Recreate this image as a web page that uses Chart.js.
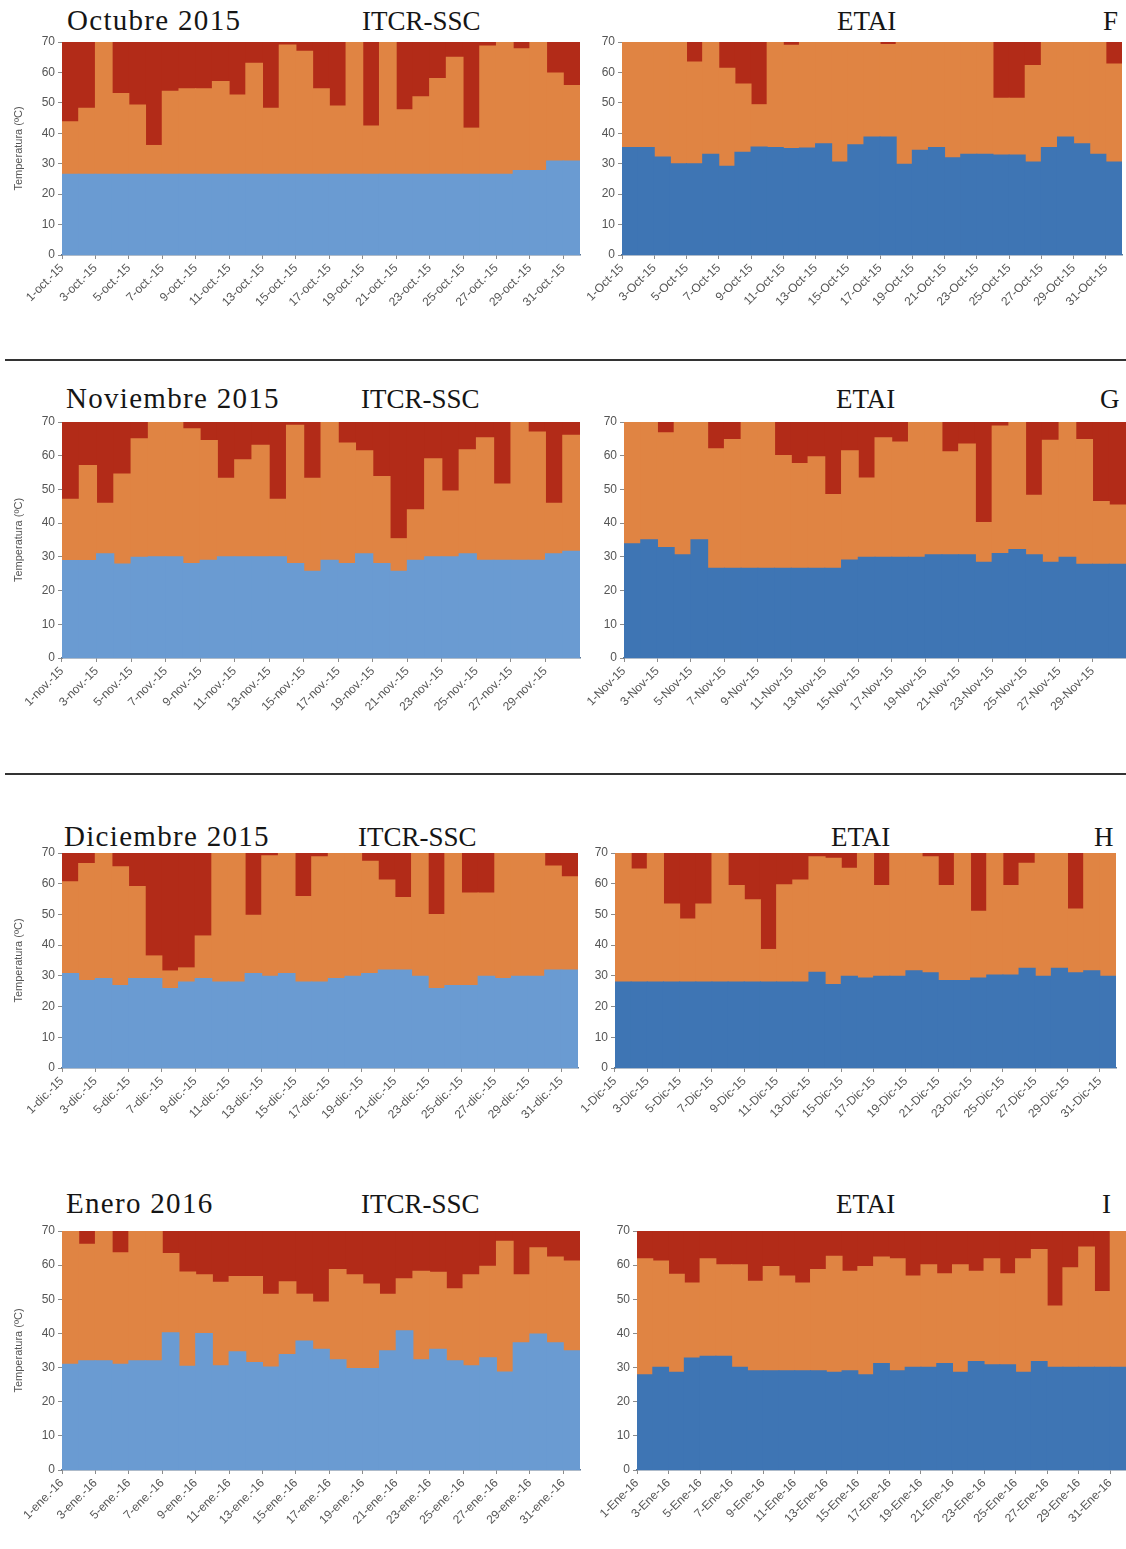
<!DOCTYPE html>
<html>
<head>
<meta charset="utf-8">
<script src="https://cdn.jsdelivr.net/npm/chart.js@4.4.1/dist/chart.umd.min.js"></script>
<style>
  html, body { margin: 0; padding: 0; background: #fff; overflow: hidden; }
  body { width: 1126px; height: 1549px; position: relative; }
  .box { position: absolute; }
  .ttl { position: absolute; font-family: "Liberation Serif", "Times New Roman", serif; font-size: 29px;
         color: #151515; letter-spacing: 1.3px; white-space: nowrap; line-height: 1; }
  .ttl.st { font-size: 27px; letter-spacing: 0; top: 0; }
  .sep { position: absolute; left: 5px; width: 1121px; height: 2px; background: #333; }
</style>
</head>
<body>

<div class="ttl" style="left:67px;top:6px">Octubre 2015</div>
<div class="ttl st" style="left:362px;top:8px">ITCR-SSC</div>
<div class="ttl st" style="left:837px;top:8px">ETAI</div>
<div class="ttl st" style="left:1103px;top:8px">F</div>
<div class="sep" style="top:359px"></div>

<div class="ttl" style="left:66px;top:384px">Noviembre 2015</div>
<div class="ttl st" style="left:361px;top:386px">ITCR-SSC</div>
<div class="ttl st" style="left:836px;top:386px">ETAI</div>
<div class="ttl st" style="left:1100px;top:386px">G</div>
<div class="sep" style="top:773px"></div>

<div class="ttl" style="left:64px;top:822px">Diciembre 2015</div>
<div class="ttl st" style="left:358px;top:824px">ITCR-SSC</div>
<div class="ttl st" style="left:831px;top:824px">ETAI</div>
<div class="ttl st" style="left:1094px;top:824px">H</div>

<div class="ttl" style="left:66px;top:1189px">Enero 2016</div>
<div class="ttl st" style="left:361px;top:1191px">ITCR-SSC</div>
<div class="ttl st" style="left:836px;top:1191px">ETAI</div>
<div class="ttl st" style="left:1102px;top:1191px">I</div>

<script>
// temperature ticks (ºC) and categories
const yTicks = [0, 10, 20, 30, 40, 50, 60, 70];
const days31 = [1,2,3,4,5,6,7,8,9,10,11,12,13,14,15,16,17,18,19,20,21,22,23,24,25,26,27,28,29,30,31];
const days30 = [1,2,3,4,5,6,7,8,9,10,11,12,13,14,15,16,17,18,19,20,21,22,23,24,25,26,27,28,29,30];

// October 2015 - lower / upper limit of each day
const octItcrMin = [26.5,26.5,26.5,26.5,26.5,26.5,26.5,26.5,26.5,26.5,26.5,26.5,26.5,26.5,26.5,26.5,26.5,26.5,26.5,26.5,26.5,26.5,26.5,26.5,26.5,26.5,26.5,27.8,27.8,30.9,30.9];
const octItcrMax = [43.8,48.2,70,53.1,49.3,36,53.8,54.6,54.6,57,52.6,63,48.2,69,67,54.6,49,70,42.4,70,47.7,52,58,65,41.7,68.7,70,67.8,70,59.8,55.7];
const octEtaiMin = [35.3,35.3,32.2,30,30,33.1,29.2,33.8,35.5,35.3,35,35.2,36.6,30.6,36.2,38.8,38.8,29.8,34.4,35.3,32,33.1,33.1,32.9,32.9,30.6,35.3,38.8,36.6,33.1,30.6];
const octEtaiMax = [70,70,70,70,63.4,70,61.4,56.2,49.4,70,68.9,69.8,70,70,70,70,69.2,70,70,70,70,70,70,51.5,51.5,62.3,70,70,70,70,62.8];

// November 2015
const novItcrMin = [28.9,28.9,30.9,27.9,29.9,30,30,28,29,30,30,30,30,28,25.7,29,28,30.9,28,25.7,29,30,30,30.9,29,29,29,29,30.9,31.7];
const novItcrMax = [47.1,57.1,45.9,54.6,65,70,70,68,64.5,53.3,58.8,63.1,47.1,69,53.3,70,63.8,61.5,53.8,35.4,44,59.1,49.5,61.8,65.3,51.6,70,67,45.9,66.1];
const novEtaiMin = [33.9,35.1,32.8,30.6,35.1,26.6,26.6,26.6,26.6,26.6,26.6,26.6,26.6,29.1,29.9,29.9,29.9,29.9,30.6,30.6,30.6,28.4,31,32.2,30.6,28.4,29.9,27.8,27.8,27.8];
const novEtaiMax = [70,70,66.8,70,70,62.1,64.8,70,70,60.1,57.7,59.7,48.5,61.5,53.4,65.3,64.1,70,70,61.2,63.5,40.2,68.8,70,48.3,64.6,70,64.8,46.4,45.4];

// December 2015
const decItcrMin = [30.8,28.5,29.1,26.9,29.1,29.1,25.9,28,29.1,28,28,30.8,29.9,30.8,28,28,29.1,29.9,30.8,31.9,31.9,29.9,25.9,26.9,26.9,29.9,29.1,29.9,29.9,31.9,31.9];
const decItcrMax = [60.6,66.6,70,65.5,59.1,36.5,31.6,32.6,43,70,70,49.7,69.1,70,55.8,68.8,70,70,67.3,61.2,55.5,70,50,70,57,57,70,70,70,65.8,62.3];
const decEtaiMin = [28,28,28,28,28,28,28,28,28,28,28,28,31.2,27.2,29.9,29.3,29.9,29.9,31.7,31,28.5,28.5,29.3,30.3,30.3,32.5,29.9,32.5,31,31.7,29.9];
const decEtaiMax = [70,64.8,70,53.4,48.5,53.4,70,59.4,54.8,38.6,59.7,61.2,68.8,68.3,65,70,59.4,70,70,68.8,59.4,70,51,70,59.4,66.7,70,70,51.8,70,70];

// January 2016
const janItcrMin = [31,32,32,31,32,32,40.2,30.4,40,30.5,34.6,31.5,30.2,33.8,37.8,35.4,32.3,29.7,29.7,34.9,40.8,32.3,35.4,32,30.5,32.9,28.7,37.3,39.8,37.3,34.9];
const janItcrMax = [70,66.1,70,63.6,70,70,63.4,58,57.2,55,56.7,56.7,51.5,55.1,51.5,49.2,58.7,57.2,54.5,51.5,56,58.2,57.9,53.1,57.2,59.7,67,57.2,65.1,62.4,61.2];
const janEtaiMin = [27.9,30.1,28.6,32.8,33.3,33.3,30.1,29.1,29.1,29.1,29.1,29.1,28.6,29.1,27.9,31.2,29.1,30.1,30.1,31.2,28.6,31.8,30.8,30.8,28.6,31.8,30.1,30.1,30.1,30.1,30.1];
const janEtaiMax = [61.9,61.2,57.3,54.8,61.9,60.1,60.1,55.3,59.6,56.8,54.8,58.7,62.6,58.2,59.6,62.4,61.9,56.8,60.1,57.5,60.1,58.2,61.9,57.5,61.9,64.6,48,59.2,65.3,52.3,70];

const TOP = 70;
const lightBlue = '#6a9bd2';
const darkBlue = '#3e75b4';
const orange = '#e08443';
const red = '#b22b18';

const panels = [
  { days: days31, tag: 'oct.-15', lo: octItcrMin, hi: octItcrMax, blue: lightBlue, x: 62,  y: 42,   w: 518, h: 213, left: true },
  { days: days31, tag: 'Oct-15',  lo: octEtaiMin, hi: octEtaiMax, blue: darkBlue,  x: 622, y: 42,   w: 500, h: 213 },
  { days: days30, tag: 'nov.-15', lo: novItcrMin, hi: novItcrMax, blue: lightBlue, x: 62,  y: 422,  w: 518, h: 236, left: true },
  { days: days30, tag: 'Nov-15',  lo: novEtaiMin, hi: novEtaiMax, blue: darkBlue,  x: 624, y: 422,  w: 502, h: 236 },
  { days: days31, tag: 'dic.-15', lo: decItcrMin, hi: decItcrMax, blue: lightBlue, x: 62,  y: 853,  w: 516, h: 215, left: true },
  { days: days31, tag: 'Dic-15',  lo: decEtaiMin, hi: decEtaiMax, blue: darkBlue,  x: 615, y: 853,  w: 501, h: 215 },
  { days: days31, tag: 'ene.-16', lo: janItcrMin, hi: janItcrMax, blue: lightBlue, x: 62,  y: 1231, w: 518, h: 239, left: true },
  { days: days31, tag: 'Ene-16',  lo: janEtaiMin, hi: janEtaiMax, blue: darkBlue,  x: 637, y: 1231, w: 489, h: 239 }
];

const sans = '"Liberation Sans", Arial, sans-serif';

function makePanel(p) {
  const axW = p.left ? 62 : 45;
  const padT = 8;
  const padR = (p.x + p.w >= 1124) ? 0 : 4;
  const xH = p.y > 1200 ? 78 : 80;

  const box = document.createElement('div');
  box.className = 'box';
  box.style.left = (p.x - axW) + 'px';
  box.style.top = (p.y - padT) + 'px';
  box.style.width = (axW + p.w + padR) + 'px';
  box.style.height = (padT + p.h + xH) + 'px';
  const canvas = document.createElement('canvas');
  box.appendChild(canvas);
  document.body.appendChild(box);

  const labels = p.days.map(d => d + '-' + p.tag);
  const halfBar = p.w / p.days.length / 2;

  return new Chart(canvas.getContext('2d'), {
    type: 'bar',
    data: {
      labels: labels,
      datasets: [
        { label: 'base', data: p.lo.map(v => [0, v]), backgroundColor: p.blue },
        { label: 'rango', data: p.lo.map((v, i) => [v, p.hi[i]]), backgroundColor: orange },
        { label: 'exceso', data: p.hi.map(v => [v, TOP]), backgroundColor: red }
      ]
    },
    options: {
      responsive: true,
      maintainAspectRatio: false,
      animation: false,
      events: [],
      layout: { padding: { top: padT, right: padR, left: 0, bottom: 0 } },
      datasets: {
        bar: { grouped: false, barPercentage: 1, categoryPercentage: 1, borderWidth: 0, inflateAmount: 0.5 }
      },
      plugins: { legend: { display: false }, tooltip: { enabled: false } },
      scales: {
        x: {
          grid: {
            display: true, drawOnChartArea: false, offset: true, tickLength: 4,
            tickColor: ctx => (ctx.index % 2 === 0 ? '#8c8c8c' : 'rgba(0,0,0,0)')
          },
          border: { display: true, color: '#5f7896', width: 1.5 },
          ticks: {
            autoSkip: false, minRotation: 45, maxRotation: 45, padding: 2,
            labelOffset: -halfBar,
            color: '#555', font: { family: sans, size: 12 },
            callback: function (val, i) { return i % 2 === 0 ? this.getLabelForValue(val) : ''; }
          },
          afterFit: s => { s.height = xH; s.paddingLeft = 0; s.paddingRight = 0; }
        },
        y: {
          min: 0, max: TOP,
          afterBuildTicks: s => { s.ticks = yTicks.map(v => ({ value: v })); },
          grid: { display: true, drawOnChartArea: false, tickLength: 4, tickColor: '#8c8c8c' },
          border: { display: true, color: '#8c8c8c' },
          ticks: { color: '#555', font: { family: sans, size: 12 }, padding: 3 },
          title: {
            display: !!p.left, text: 'Temperatura (ºC)', color: '#555',
            font: { family: sans, size: 11 }, padding: { top: 12, bottom: 2 }
          },
          afterFit: s => { s.width = axW; s.paddingTop = 0; s.paddingBottom = 0; }
        }
      }
    }
  });
}

panels.forEach(makePanel);
</script>
</body>
</html>
